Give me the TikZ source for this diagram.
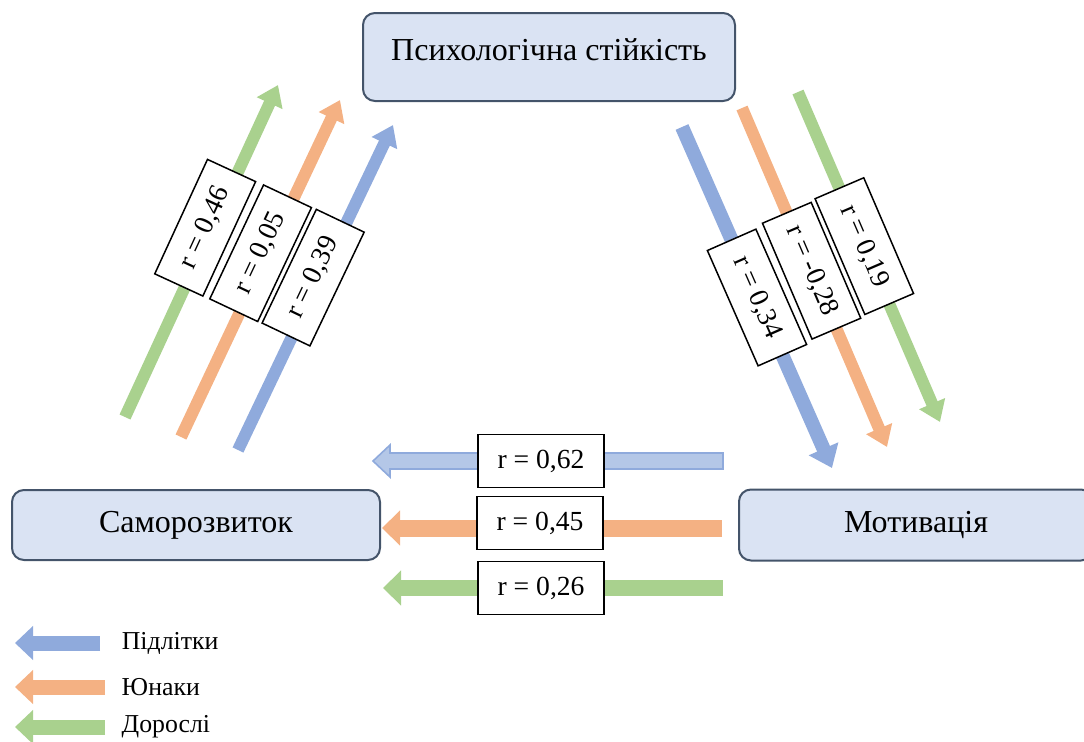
\documentclass[tikz,border=0pt]{standalone}
\usepackage{fontspec}
\setmainfont{Liberation Serif}
\usetikzlibrary{positioning}
\usetikzlibrary{arrows.meta}

\definecolor{TeenBlue}{HTML}{8FAADC}
\definecolor{TeenBlueLight}{HTML}{B4C7E7}
\definecolor{YouthOrange}{HTML}{F4B183}
\definecolor{AdultGreen}{HTML}{A9D18E}
\definecolor{BoxFill}{HTML}{DAE3F3}
\definecolor{BoxLine}{HTML}{44546A}

\tikzset{
  Block/.style={draw=BoxLine, fill=BoxFill, line width=1pt, rounded corners=6pt,
                text=black, font=\fontsize{16}{19}\selectfont},
  CorrBox/.style={draw=black, fill=white, text=black, line width=0.75pt, minimum width=63pt,
                  minimum height=26.5pt, inner sep=1pt, font=\fontsize{13.8}{16}\selectfont},
  LeftShift/.style={xshift=-1.45pt, yshift=3.2pt},
  Diag/.style={line width=6pt, -{Triangle[width=13.5pt,length=10pt]}},
  Flat/.style={line width=8.5pt, -{Triangle[width=17pt,length=9pt]}},
  LegArrow/.style={line width=7.5pt, -{Triangle[width=16.5pt,length=9pt]}},
  LegText/.style={font=\fontsize{12.9}{15}\selectfont, anchor=west},
}

\begin{document}
\begin{tikzpicture}[x=0.5pt,y=-0.5pt]
    \useasboundingbox (0,0) rectangle (1084,741);

    %Blocks
    \node[Block, minimum width=186pt, minimum height=44pt, text height=11pt, text depth=7.5pt] (Resilience) at (549,57) {Психологічна стійкість};
    \node[Block, minimum width=184pt, minimum height=35pt] (SelfDev) at (196,525) {Саморозвиток};
    \node[Block, minimum width=177pt, minimum height=35.5pt, right = 178.5pt of SelfDev] (Motivation) {Мотивація};

    %Arrow ends
    \coordinate (LeftGreenTail)  at (125,417);
    \coordinate (LeftGreenTip)   at (278,85);
    \coordinate (LeftOrangeTail) at (181,437);
    \coordinate (LeftOrangeTip)  at (340,100);
    \coordinate (LeftBlueTail)   at (238,450);
    \coordinate (LeftBlueTip)    at (393,125);

    \coordinate (RightBlueTail)   at (682,127);
    \coordinate (RightBlueTip)    at (832,468);
    \coordinate (RightOrangeTail) at (742,108);
    \coordinate (RightOrangeTip)  at (887,447);
    \coordinate (RightGreenTail)  at (798,92);
    \coordinate (RightGreenTip)   at (940,422);

    \coordinate (FlatBlueTail)   at (723,461);
    \coordinate (FlatBlueTip)    at (373,461);
    \coordinate (FlatOrangeTail) at (722,528);
    \coordinate (FlatOrangeTip)  at (382,528);
    \coordinate (FlatGreenTail)  at (723,588);
    \coordinate (FlatGreenTip)   at (383,588);

    %Self-development -> resilience
    \draw[Diag, AdultGreen]  (LeftGreenTail)  -- (LeftGreenTip)  node[CorrBox, sloped, pos=0.57, LeftShift]  {r = 0,46};
    \draw[Diag, YouthOrange] (LeftOrangeTail) -- (LeftOrangeTip) node[CorrBox, sloped, pos=0.545, LeftShift] {r = 0,05};
    \draw[Diag, TeenBlue]    (LeftBlueTail)   -- (LeftBlueTip)   node[CorrBox, sloped, pos=0.53, LeftShift]  {r = 0,39};

    %Resilience -> motivation
    \draw[Diag, TeenBlue, line width=7pt, -{Triangle[width=15.5pt,length=10.5pt]}]
          (RightBlueTail) -- (RightBlueTip) node[CorrBox, sloped, pos=0.5] {r = 0,34};
    \draw[Diag, YouthOrange] (RightOrangeTail) -- (RightOrangeTip) node[CorrBox, sloped, pos=0.48]  {r = -0,28};
    \draw[Diag, AdultGreen]  (RightGreenTail)  -- (RightGreenTip)  node[CorrBox, sloped, pos=0.467] {r = 0,19};

    %Motivation -> self-development
    \filldraw[fill=TeenBlueLight, draw=TeenBlue, line width=0.8pt]
          (FlatBlueTail) ++(0,-8) -- ++(-333,0) -- ++(0,-8) -- (FlatBlueTip)
          -- ++(17,16) -- ++(0,-8) -- ++(333,0) -- cycle;
    \path (FlatBlueTail) -- (FlatBlueTip) node[CorrBox, pos=0.52] {r = 0,62};
    \draw[Flat, YouthOrange] (FlatOrangeTail) -- (FlatOrangeTip) node[CorrBox, pos=0.535, yshift=2.5pt] {r = 0,45};
    \draw[Flat, AdultGreen, line width=8pt] (FlatGreenTail) -- (FlatGreenTip) node[CorrBox, pos=0.535] {r = 0,26};

    %-------------------------------------------
    %Legend
    \coordinate (LegBlueTail)   at (100,643);
    \coordinate (LegBlueTip)    at (15,643);
    \coordinate (LegOrangeTail) at (105,687);
    \coordinate (LegOrangeTip)  at (15,687);
    \coordinate (LegGreenTail)  at (105,727);
    \coordinate (LegGreenTip)   at (15,727);

    \draw[LegArrow, TeenBlue]    (LegBlueTail)   -- (LegBlueTip);
    \draw[LegArrow, YouthOrange] (LegOrangeTail) -- (LegOrangeTip);
    \draw[LegArrow, AdultGreen]  (LegGreenTail)  -- (LegGreenTip);

    \node[LegText, right = 0.26cm of LegBlueTail]  (LegBlueLabel)  {Підлітки};
    \node[LegText, right = 0.17cm of LegOrangeTail] (LegOrangeLabel) {Юнаки};
    \node[LegText, right = 0.17cm of LegGreenTail]  (LegGreenLabel)  {Дорослі};

\end{tikzpicture}
\end{document}
